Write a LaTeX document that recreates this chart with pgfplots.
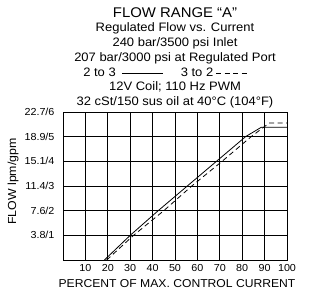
\documentclass[border=0pt]{standalone}
\usepackage{fontspec}
\setmainfont{Liberation Sans}[FakeStretch=1.06]
\usepackage{pgfplots}
\pgfplotsset{compat=1.18}
\newcommand{\dsh}{\rule[0.3em]{5bp}{0.8pt}\hspace{3.5bp}}
\begin{document}
\begin{tikzpicture}
\useasboundingbox (-63bp,-35bp) rectangle (248bp,260bp);
\begin{axis}[
  at={(0,0)}, anchor=south west,
  scale only axis, width=224bp, height=148bp,
  xmin=0, xmax=100, ymin=0, ymax=6,
  xtick={10,20,...,100},
  ytick={1,2,3,4,5,6},
  yticklabels={3.8/1,7.6/2,11.4/3,15.1/4,18.9/5,22.7/6},
  axis line style={black, line width=0.9pt},
  major tick length=0pt,
  ticklabel style={font=\fontsize{10.2}{11}\selectfont},
  yticklabel style={xshift=-5bp},
  xticklabel style={yshift=-1bp},
  /pgf/number format/assume math mode=true,
  clip=true,
]
% curves
\addplot[black, line width=0.8pt, mark=none] coordinates {
  (18.5,0) (30,1) (42.5,2) (55.5,3) (68.5,4) (81.5,5) (88.5,5.38) (100,5.38)};
\addplot[black, line width=0.8pt, mark=none, dash pattern=on 5bp off 3.5bp] coordinates {
  (19.5,0) (31.5,1) (45,2) (57.5,3) (71,4) (84,5) (92,5.55) (100,5.55)};
% grid lines as one zig-zag path each (joins run along the frame)
\addplot[black, line width=0.9pt, mark=none] coordinates {
  (0,0) (10,0) (10,6) (20,6) (20,0) (30,0) (30,6) (40,6) (40,0) (50,0) (50,6)
  (60,6) (60,0) (70,0) (70,6) (80,6) (80,0) (90,0) (90,6) (100,6)};
\addplot[black, line width=0.9pt, mark=none] coordinates {
  (0,0) (0,1) (100,1) (100,2) (0,2) (0,3) (100,3) (100,4) (0,4) (0,5) (100,5) (100,6)};
\end{axis}
% titles
\node[anchor=base, font=\fontsize{14.1}{16}\selectfont] at (112bp,242bp) {FLOW RANGE “A”};
\node[anchor=base, font=\fontsize{12.3}{14}\selectfont] at (112bp,228bp) {Regulated Flow vs. Current};
\node[anchor=base, font=\fontsize{12.3}{14}\selectfont] at (112bp,213bp) {240 bar/3500 psi Inlet};
\node[anchor=base, font=\fontsize{12.3}{14}\selectfont] at (112bp,198bp) {207 bar/3000 psi at Regulated Port};
\node[anchor=base, font=\fontsize{12.3}{14}\selectfont] at (102bp,183bp) {2 to 3\hspace{6bp}\rule[0.3em]{41bp}{0.8pt}\hspace{18bp}3 to 2\hspace{3bp}\dsh\dsh\dsh\dsh};
\node[anchor=base, font=\fontsize{12.3}{14}\selectfont] at (112bp,169bp) {12V Coil; 110 Hz PWM};
\node[anchor=base, font=\fontsize{12.3}{14}\selectfont] at (112bp,154bp) {32 cSt/150 sus oil at 40°C (104°F)};
% axis labels
\node[font=\fontsize{11.5}{13}\selectfont] at (114bp,-24bp) {PERCENT OF MAX. CONTROL CURRENT};
\node[rotate=90, font=\fontsize{11.7}{13}\selectfont] at (-50bp,78.5bp) {FLOW lpm/gpm};
\end{tikzpicture}
\end{document}
